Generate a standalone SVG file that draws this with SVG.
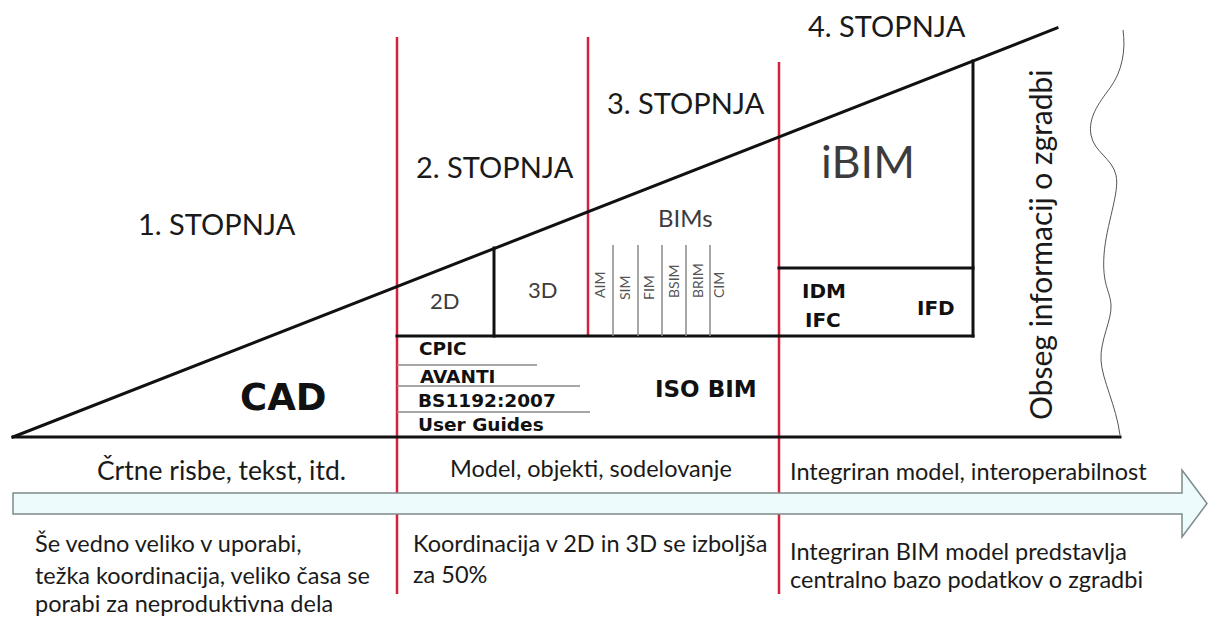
<svg xmlns="http://www.w3.org/2000/svg" width="1208" height="618" viewBox="0 0 1208 618">
  <style>
    .edge { stroke: #111; stroke-width: 3; fill: none; stroke-linecap: square; }
    .stage { stroke: #d4213d; stroke-width: 2.5; fill: none; }
    .thin { stroke: #8a8a8a; stroke-width: 1.5; fill: none; }
    .lbl { font-family: Lato, "Open Sans", sans-serif; fill: #1a1a1a; }
    .soft { font-family: Lato, "Open Sans", sans-serif; fill: #3c3c3c; }
    .tiny { font-family: Lato, "Open Sans", sans-serif; fill: #555; font-size: 14px; }
    .bold { font-family: "DejaVu Sans", Verdana, sans-serif; font-weight: bold; fill: #111; }
    .note { font-family: Lato, "Open Sans", sans-serif; fill: #1a1a1a; font-size: 23.5px; }
  </style>

  <rect width="1208" height="618" fill="#fff"/>

  <!-- stage dividers -->
  <g id="dividers">
    <line class="stage" x1="397" y1="37" x2="397" y2="594"/>
    <line class="stage" x1="588" y1="37" x2="588" y2="337"/>
    <line class="stage" x1="779" y1="62" x2="779" y2="594"/>
  </g>

  <!-- main wedge and inner boxes -->
  <g id="connectors">
    <line class="edge" x1="13" y1="437" x2="1120" y2="437"/>
    <line class="edge" x1="13" y1="437" x2="1057" y2="28"/>
    <line class="edge" x1="397" y1="336" x2="973" y2="336"/>
    <line class="edge" x1="494" y1="248" x2="494" y2="336"/>
    <line class="edge" x1="973" y1="61" x2="973" y2="336"/>
    <line class="edge" x1="779" y1="268" x2="973" y2="268"/>
    <!-- BIMs sub-columns -->
    <line class="thin" x1="613" y1="245" x2="613" y2="336"/>
    <line class="thin" x1="638" y1="245" x2="638" y2="336"/>
    <line class="thin" x1="662" y1="245" x2="662" y2="336"/>
    <line class="thin" x1="686" y1="245" x2="686" y2="336"/>
    <line class="thin" x1="710" y1="245" x2="710" y2="336"/>
    <!-- standards list separators -->
    <line class="thin" x1="397" y1="365" x2="537" y2="365"/>
    <line class="thin" x1="397" y1="386" x2="580" y2="386"/>
    <line class="thin" x1="397" y1="412" x2="590" y2="412"/>
    <!-- torn edge -->
    <path d="M1123,30 C1126,50 1122,72 1110,88 S1088,118 1091,135 S1112,158 1116,175 S1106,225 1104,255 S1110,290 1111,305 S1100,340 1101,360 S1116,405 1120,435" fill="none" stroke="#555" stroke-width="1"/>
  </g>

  <!-- timeline arrow -->
  <g id="arrow">
    <polygon points="13,493 1182,493 1182,470 1207,503.5 1182,537 1182,514 13,514" fill="#eefbfc" stroke="#7d8a8c" stroke-width="1.5"/>
  </g>

  <g id="stage1">
    <text class="lbl" x="138" y="235" font-size="29">1. STOPNJA</text>
    <text class="bold" x="240" y="410" font-size="37">CAD</text>
  </g>

  <g id="stage2">
    <text class="lbl" x="416" y="178" font-size="29">2. STOPNJA</text>
    <text class="soft" x="430" y="309" font-size="22">2D</text>
    <text class="soft" x="528" y="298" font-size="22">3D</text>
    <text class="bold" x="419" y="355" font-size="18.5">CPIC</text>
    <text class="bold" x="420" y="383" font-size="18.5">AVANTI</text>
    <text class="bold" x="418" y="407" font-size="18.5">BS1192:2007</text>
    <text class="bold" x="418" y="431" font-size="18.5">User Guides</text>
  </g>

  <g id="stage3">
    <text class="lbl" x="607" y="114" font-size="29">3. STOPNJA</text>
    <text class="soft" x="658" y="227" font-size="24">BIMs</text>
    <text class="tiny" transform="translate(605,298) rotate(-90)">AIM</text>
    <text class="tiny" transform="translate(630,300) rotate(-90)">SIM</text>
    <text class="tiny" transform="translate(654,300) rotate(-90)">FIM</text>
    <text class="tiny" transform="translate(679,298) rotate(-90)">BSIM</text>
    <text class="tiny" transform="translate(703,298) rotate(-90)">BRIM</text>
    <text class="tiny" transform="translate(724,298) rotate(-90)">CIM</text>
    <text class="bold" x="655" y="397" font-size="23">ISO BIM</text>
  </g>

  <g id="stage4">
    <text class="lbl" x="808" y="37" font-size="29">4. STOPNJA</text>
    <text class="soft" x="821" y="178" font-size="45">iBIM</text>
    <text class="bold" x="802" y="298" font-size="20">IDM</text>
    <text class="bold" x="805" y="327" font-size="20">IFC</text>
    <text class="bold" x="917" y="315" font-size="20">IFD</text>
  </g>

  <g id="axis-label">
    <text class="lbl" transform="translate(1052,420) rotate(-90)" font-size="30" fill="#1c1c30">Obseg informacij o zgradbi</text>
  </g>

  <g id="timeline-labels">
    <text class="lbl" x="97" y="480" font-size="26.5">Črtne risbe, tekst, itd.</text>
    <text class="lbl" x="450" y="477" font-size="23.5">Model, objekti, sodelovanje</text>
    <text class="lbl" x="790" y="480" font-size="23.5">Integriran model, interoperabilnost</text>
  </g>

  <g id="notes">
    <text class="note" x="35" y="552">Še vedno veliko v uporabi,</text>
    <text class="note" x="35" y="584">težka koordinacija, veliko časa se</text>
    <text class="note" x="35" y="612">porabi za neproduktivna dela</text>
    <text class="note" x="413" y="552">Koordinacija v 2D in 3D se izboljša</text>
    <text class="note" x="413" y="583">za 50%</text>
    <text class="note" x="790" y="560">Integriran BIM model predstavlja</text>
    <text class="note" x="790" y="588">centralno bazo podatkov o zgradbi</text>
  </g>
</svg>
